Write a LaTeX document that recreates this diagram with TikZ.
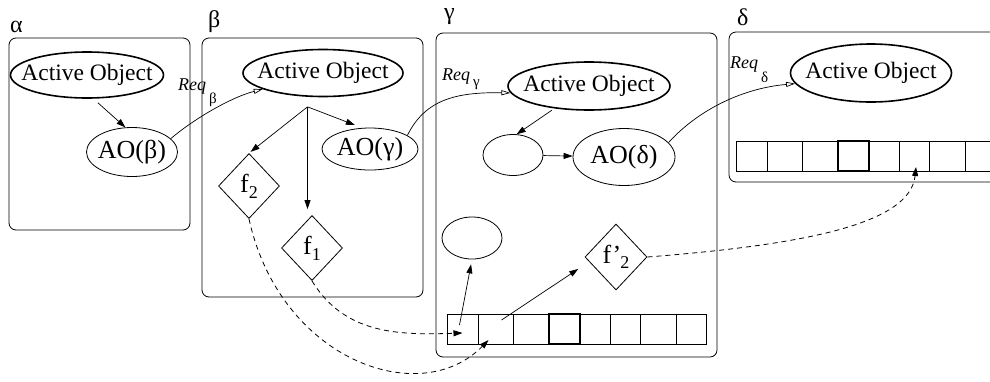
\documentclass[tikz,border=0pt]{standalone}
\usepackage{fontspec}
\setmainfont{Liberation Serif}
\usetikzlibrary{shapes.geometric, arrows.meta, positioning, calc}
\newcommand{\ctr}[1]{\makebox[0pt]{#1}}
\newcommand{\fsub}[1]{f\raisebox{-6pt}{\fontsize{18}{18}\selectfont #1}}
\newcommand{\fpsub}[1]{f’\kern-1pt\raisebox{-5pt}{\fontsize{18}{18}\selectfont #1}}
\newcommand{\reqsub}[2]{Req\hspace{3pt}\raisebox{#1}{\upshape\fontsize{15}{15}\selectfont #2}}
\tikzset{
  activeobj/.style={ellipse, draw, line width=1.6pt, inner sep=0pt,
    minimum width=160pt, minimum height=47pt, font=\fontsize{23.5}{26}\selectfont},
  aoref/.style={ellipse, draw, line width=0.8pt, inner sep=0pt,
    font=\fontsize{26}{28}\selectfont},
  future/.style={diamond, draw, line width=0.8pt, inner sep=0pt,
    minimum width=61pt, minimum height=65pt, font=\fontsize{26}{28}\selectfont},
  cell/.style={rectangle, draw, line width=0.8pt, inner sep=0pt, minimum height=30pt},
  region/.style={draw, line width=0.8pt, rounded corners=7pt},
  arrow/.style={-{Triangle[length=9pt,width=6pt]}, line width=0.7pt},
  request/.style={-{Triangle[open,length=9pt,width=5pt]}, line width=0.7pt},
  forward/.style={-{Triangle[length=9pt,width=6pt]}, line width=0.8pt, dash pattern=on 5pt off 4pt},
  greek/.style={font=\fontsize{24}{26}\selectfont, anchor=base west, inner sep=0pt},
  reqlabel/.style={font=\fontsize{18}{20}\selectfont\itshape, anchor=base west, inner sep=0pt}
}

\begin{document}
\begin{tikzpicture}[x=1pt, y=-1pt]
  \useasboundingbox (0,0) rectangle (990,381);
  \clip (0,0) rectangle (990,381);

  % Regions
  \draw[region] (9,38) rectangle (190,230);
  \draw[region] (202,38) rectangle (423,297);
  \draw[region] (436,33) rectangle (717,357);
  \draw[region] (729,32) rectangle (1010,182);
  \node[greek] (lblA) at (10,32) {α};
  \node[greek] (lblB) at (208,27) {β};
  \node[greek] (lblG) at (444,19) {γ};
  \node[greek] (lblD) at (737,25) {δ};

  % Queues
  \foreach \xa/\xb [count=\i] in {0/31,31/66,66/102,102/133,133/163,163/193,193/229,229/259}{
    \node[cell, minimum width={(\xb-\xa)*1pt}] (qg\i) at ({447+(\xa+\xb)/2},329) {};
    \node[cell, minimum width={(\xb-\xa)*1pt}] (qd\i) at ({736+(\xa+\xb)/2},156) {};
  }
  \draw[line width=2pt] (qg4.south west) rectangle (qg4.north east);
  \draw[line width=2pt] (qd4.south west) rectangle (qd4.north east);

  % Region alpha
  \node[activeobj, minimum width=153pt, minimum height=46pt] (aoA) at (87,75) {\ctr{Active Object}};
  \node[aoref, minimum width=91pt, minimum height=49pt] (refB) at (132,152) {\ctr{AO(β)}};
  \draw[arrow, shorten <=6pt] (aoA.285) -- (refB.105);

  % Region beta
  \node[activeobj] (aoB) at (323,73) {\ctr{Active Object}};
  \node[aoref, minimum width=96pt, minimum height=42pt] (refG) at (370,149) {\ctr{AO(γ)}};
  \node[future] (fB2) at (249,186) {\fsub{2}};
  \node[future] (fB1) at (312,248) {\fsub{1}};
  \coordinate (forkB) at ([yshift=-10pt]aoB.237);
  \draw[arrow, shorten >=2pt] (forkB) -- (fB2.north);
  \draw[arrow, shorten >=6pt] (forkB) -- (forkB |- fB1.north);
  \draw[arrow, shorten >=8pt] (forkB) -- (refG.110);

  % Region gamma
  \node[activeobj, minimum width=162pt, minimum height=48pt] (aoG) at (589,86) {\ctr{Active Object}};
  \node[aoref, minimum width=60pt, minimum height=41pt] (tmpG) at (513,155) {};
  \node[aoref, minimum width=102pt, minimum height=57pt] (refD) at (624,157) {\ctr{AO(δ)}};
  \node[aoref, minimum width=60pt, minimum height=42pt] (valG) at (472,238) {};
  \node[future, minimum width=62pt, minimum height=66pt] (fG2) at (616,257) {\fpsub{2}};
  \draw[arrow, shorten <=3pt] (aoG.213) -- (tmpG.80);
  \draw[arrow] (tmpG) -- (refD);
  \coordinate (outG1) at ([xshift=-3pt,yshift=4pt]qg1.center);
  \coordinate (outG2) at ([xshift=6pt,yshift=9pt]qg2.center);
  \draw[arrow, shorten >=5pt] (outG1) -- (valG.south);
  \draw[arrow, shorten >=13pt] (outG2) -- (fG2.190);

  % Region delta
  \node[activeobj, minimum width=161pt, minimum height=58pt] (aoD) at (871,73) {\ctr{Active Object}};

  % Requests
  \draw[request] (refB.19) .. controls (195,118) and (232,97) .. (aoB.195);
  \draw[request] (refG.20) .. controls (425,100) and (455,92) .. (aoG.185);
  \draw[request] (refD.18) .. controls (700,108) and (745,88) .. (aoD.188);
  \node[reqlabel] (reqB) at (178,90) {\reqsub{-13pt}{β}};
  \node[reqlabel] (reqG) at (442,80) {\reqsub{-6pt}{γ}};
  \node[reqlabel] (reqD) at (730,68) {\reqsub{-14pt}{δ}};

  % Forwarded futures
  \coordinate (inG1) at ([yshift=-4pt]qg1.center);
  \coordinate (inG2) at ([xshift=-7pt,yshift=-11pt]qg2.center);
  \coordinate (inD6) at ([xshift=2pt,yshift=-11pt]qd6.center);
  \draw[forward] (fB2.south) .. controls (280,360) and (420,410) .. (inG2);
  \draw[forward] (fB1.south) .. controls (345,335) and (400,335) .. (inG1);
  \draw[forward] (fG2.east) .. controls (800,245) and (910,225) .. (inD6);
\end{tikzpicture}
\end{document}
